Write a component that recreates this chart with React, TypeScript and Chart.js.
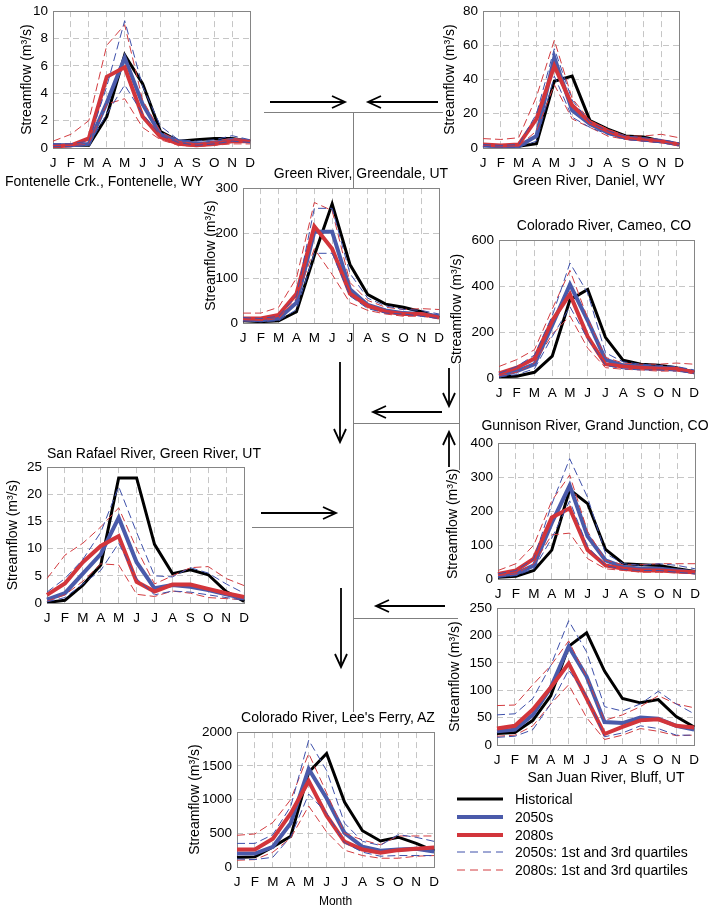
import React, { useEffect, useRef } from "react";
import { Chart, registerables } from "chart.js";
Chart.register(...registerables);

Chart.defaults.font.family = "'Liberation Sans', Arial, sans-serif";
Chart.defaults.font.size = 13.5;
Chart.defaults.color = "#000";

const MONTHS = ["J", "F", "M", "A", "M", "J", "J", "A", "S", "O", "N", "D"];
const Y_TITLE = "Streamflow (m³/s)";

// Fontenelle Crk., Fontenelle, WY
const FON_HIST = [0.2, 0.2, 0.2, 2.3, 6.8, 4.7, 1.2, 0.5, 0.6, 0.7, 0.7, 0.5];
const FON_2050 = [0.2, 0.2, 0.3, 3.3, 6.6, 3.2, 1.0, 0.5, 0.3, 0.4, 0.6, 0.5];
const FON_2080 = [0.1, 0.2, 0.7, 5.2, 5.9, 2.3, 0.8, 0.3, 0.2, 0.3, 0.5, 0.5];
const FON_2050_Q1 = [0.1, 0.1, 0.2, 2.5, 4.6, 2.5, 0.9, 0.4, 0.2, 0.3, 0.5, 0.4];
const FON_2050_Q3 = [0.3, 0.3, 0.5, 4.5, 9.3, 4.5, 1.6, 0.6, 0.5, 0.6, 0.9, 0.6];
const FON_2080_Q1 = [0.1, 0.1, 0.3, 3.2, 3.6, 1.5, 0.6, 0.2, 0.1, 0.2, 0.3, 0.3];
const FON_2080_Q3 = [0.5, 1.0, 2.0, 7.5, 9.0, 3.5, 1.2, 0.5, 0.3, 0.5, 0.7, 0.6];

// Green River, Daniel, WY
const DAN_HIST = [1.5, 1, 1, 2.5, 39, 42, 16, 11, 7, 6.5, 4, 2];
const DAN_2050 = [1.5, 1, 1, 7, 53, 22, 14, 9, 6, 5, 4, 2];
const DAN_2080 = [2, 1.5, 2, 17, 48, 25, 15, 10, 6, 5, 4, 2];
const DAN_2050_Q1 = [1, 0.5, 0.5, 4, 42, 18, 12, 8, 5, 4, 3, 1.5];
const DAN_2050_Q3 = [2, 1.5, 2, 20, 58, 28, 15, 10, 7, 6, 5, 3];
const DAN_2080_Q1 = [1, 0.5, 1, 10, 37, 17, 12, 7, 5, 4, 3, 1.5];
const DAN_2080_Q3 = [5.5, 5, 6, 30, 63, 29, 16, 11, 7, 7, 8, 6];

// Green River, Greendale, UT
const GRE_HIST = [5, 3, 5, 25, 150, 265, 130, 63, 42, 35, 25, 12];
const GRE_2050 = [8, 6, 10, 45, 203, 203, 75, 40, 28, 22, 20, 15];
const GRE_2080 = [10, 10, 18, 65, 215, 165, 65, 38, 25, 20, 20, 12];
const GRE_2050_Q1 = [5, 3, 5, 30, 155, 155, 60, 32, 22, 20, 15, 10];
const GRE_2050_Q3 = [12, 10, 15, 60, 255, 255, 110, 55, 38, 30, 28, 20];
const GRE_2080_Q1 = [5, 5, 10, 55, 165, 108, 45, 28, 20, 15, 15, 10];
const GRE_2080_Q3 = [22, 22, 35, 100, 268, 250, 90, 50, 35, 30, 32, 30];

// Colorado River, Cameo, CO
const CAM_HIST = [5, 8, 25, 95, 340, 385, 177, 77, 60, 55, 45, 25];
const CAM_2050 = [10, 30, 60, 230, 407, 250, 80, 55, 50, 45, 40, 25];
const CAM_2080 = [20, 45, 85, 250, 365, 180, 60, 50, 45, 40, 40, 25];
const CAM_2050_Q1 = [5, 15, 40, 180, 310, 170, 55, 40, 35, 35, 30, 20];
const CAM_2050_Q3 = [20, 50, 100, 270, 500, 370, 110, 70, 60, 55, 50, 35];
const CAM_2080_Q1 = [10, 25, 65, 190, 270, 130, 45, 38, 35, 30, 30, 20];
const CAM_2080_Q3 = [50, 80, 123, 300, 468, 260, 90, 65, 60, 60, 65, 60];

// Gunnison River, Grand Junction, CO
const GUN_HIST = [5, 8, 25, 85, 263, 222, 87, 45, 42, 40, 30, 22];
const GUN_2050 = [10, 15, 40, 165, 275, 126, 55, 35, 30, 30, 25, 20];
const GUN_2080 = [15, 25, 60, 181, 208, 85, 40, 30, 25, 25, 22, 20];
const GUN_2050_Q1 = [5, 10, 30, 120, 230, 95, 40, 28, 25, 25, 20, 15];
const GUN_2050_Q3 = [15, 25, 60, 220, 354, 240, 75, 45, 40, 45, 40, 30];
const GUN_2080_Q1 = [10, 15, 45, 130, 135, 60, 30, 25, 20, 20, 18, 15];
const GUN_2080_Q3 = [25, 45, 100, 230, 306, 140, 55, 42, 42, 45, 45, 45];

// San Juan River, Bluff, UT
const SJU_HIST = [21, 23, 45, 90, 180, 205, 135, 85, 77, 83, 52, 33];
const SJU_2050 = [25, 28, 55, 105, 180, 125, 42, 40, 50, 48, 35, 28];
const SJU_2080 = [30, 35, 65, 105, 149, 85, 20, 33, 45, 47, 35, 32];
const SJU_2050_Q1 = [14, 16, 28, 75, 137, 90, 15, 22, 35, 30, 18, 18];
const SJU_2050_Q3 = [55, 57, 85, 145, 227, 170, 70, 62, 75, 98, 75, 57];
const SJU_2080_Q1 = [16, 18, 35, 75, 110, 50, 10, 18, 30, 25, 17, 18];
const SJU_2080_Q3 = [72, 73, 110, 145, 190, 125, 45, 55, 70, 90, 75, 68];

// San Rafael River, Green River, UT
const SRA_HIST = [0.1, 0.5, 3.3, 7.0, 23, 23, 10.8, 5.4, 6.1, 5.2, 2.1, 0.3];
const SRA_2050 = [0.6, 1.8, 5.4, 9.0, 15.7, 7.5, 2.7, 3.3, 3.0, 2.4, 1.6, 0.8];
const SRA_2080 = [1.5, 3.6, 7.5, 10.5, 12.3, 3.9, 2.1, 3.4, 3.4, 2.6, 1.8, 1.1];
const SRA_2050_Q1 = [0.2, 1.0, 3.5, 6, 11, 4.5, 1.5, 2.2, 2.0, 1.5, 1.0, 0.5];
const SRA_2050_Q3 = [2.0, 4.5, 8, 13, 21.4, 13, 5, 4.8, 6.5, 5.5, 3.5, 1.8];
const SRA_2080_Q1 = [0.3, 1.5, 4, 7.2, 7, 1.6, 1.2, 2.2, 1.8, 1.0, 0.8, 0.6];
const SRA_2080_Q3 = [4.5, 8.8, 11, 14, 17.5, 10, 3.5, 5, 6.5, 6.7, 4.5, 3.2];

// Colorado River, Lee's Ferry, AZ
const LEE_HIST = [140, 150, 298, 456, 1404, 1683, 962, 538, 385, 442, 350, 240];
const LEE_2050 = [200, 200, 300, 650, 1452, 1019, 505, 300, 240, 260, 270, 230];
const LEE_2080 = [260, 260, 420, 793, 1274, 760, 375, 260, 210, 250, 270, 290];
const LEE_2050_Q1 = [120, 110, 144, 450, 1082, 800, 360, 220, 160, 170, 170, 170];
const LEE_2050_Q3 = [350, 350, 480, 900, 1880, 1430, 650, 380, 320, 480, 440, 380];
const LEE_2080_Q1 = [100, 110, 220, 430, 904, 520, 250, 170, 130, 130, 160, 170];
const LEE_2080_Q3 = [470, 490, 660, 1000, 1683, 1100, 500, 400, 330, 460, 460, 460];

const BLUE = "#4a5aaa";
const RED = "#d2353b";
const BLUE_D = "#3e50aa";
const RED_D = "#d23c40";
const DASH = [8, 4];

type SeriesSet = {
  hist: number[]; s50: number[]; s80: number[];
  q50a: number[]; q50b: number[]; q80a: number[]; q80b: number[];
};

function buildDatasets(s: SeriesSet) {
  const base = { pointRadius: 0, fill: false, tension: 0 };
  return [
    { ...base, label: "2050s Q1", data: s.q50a, borderColor: BLUE_D, borderWidth: 1, borderDash: DASH, order: 1 },
    { ...base, label: "2050s Q3", data: s.q50b, borderColor: BLUE_D, borderWidth: 1, borderDash: DASH, order: 1 },
    { ...base, label: "2080s Q1", data: s.q80a, borderColor: RED_D, borderWidth: 1, borderDash: DASH, order: 1 },
    { ...base, label: "2080s Q3", data: s.q80b, borderColor: RED_D, borderWidth: 1, borderDash: DASH, order: 1 },
    { ...base, label: "2080s", data: s.s80, borderColor: RED, borderWidth: 4, order: 5 },
    { ...base, label: "2050s", data: s.s50, borderColor: BLUE, borderWidth: 4, order: 6 },
    { ...base, label: "Historical", data: s.hist, borderColor: "#000", borderWidth: 3, order: 7 },
  ];
}

const framePlugin = {
  id: "frame",
  beforeDraw(chart: any) {
    const { ctx, chartArea: a } = chart;
    ctx.save();
    ctx.fillStyle = "#fff";
    ctx.fillRect(a.left, a.top, a.right - a.left, a.bottom - a.top);
    ctx.restore();
  },
  beforeDatasetsDraw(chart: any) {
    const { ctx, chartArea: a } = chart;
    ctx.save();
    ctx.strokeStyle = "#858585";
    ctx.lineWidth = 1;
    ctx.setLineDash([]);
    ctx.strokeRect(Math.round(a.left) + 0.5, Math.round(a.top) + 0.5, Math.round(a.right - a.left), Math.round(a.bottom - a.top));
    ctx.restore();
  },
};

type PanelProps = {
  series: SeriesSet; max: number; step: number;
  L: number; R: number; T: number; B: number; titleX: number;
  xTitle?: string; xAxisH?: number; titleAlign?: "start" | "center" | "end";
};

function Panel({ series, max, step, L, R, T, B, titleX, xTitle, xAxisH, titleAlign }: PanelProps) {
  const ref = useRef<HTMLCanvasElement>(null);
  const padTop = 10;
  const padRight = 8;
  const xH = xAxisH ?? 25;
  const canvasLeft = titleX - 8;
  const yW = L - canvasLeft;
  const width = R - canvasLeft + padRight;
  const height = B - T + padTop + xH;
  useEffect(() => {
    const grid = { color: "#c6c6c6", lineWidth: 1, drawTicks: false };
    const border = { display: false, dash: [6, 4] };
    const chart = new Chart(ref.current as HTMLCanvasElement, {
      type: "line",
      data: { labels: MONTHS, datasets: buildDatasets(series) as any },
      options: {
        animation: false,
        responsive: false,
        maintainAspectRatio: false,
        layout: { padding: { top: padTop, right: padRight, left: 0, bottom: 0 } },
        plugins: { legend: { display: false }, tooltip: { enabled: false }, title: { display: false } },
        scales: {
          x: {
            type: "category",
            offset: false,
            grid: { ...grid, offset: false },
            border,
            ticks: { padding: 7, autoSkip: false, maxRotation: 0, color: "#000" },
            title: xTitle
              ? { display: true, text: xTitle, padding: 0, color: "#000", font: { size: 12 } }
              : { display: false },
            afterFit: (s: any) => { s.height = xH; },
          },
          y: {
            min: 0,
            max,
            grid,
            border,
            ticks: { stepSize: step, padding: 5, color: "#000", callback: (v: any) => String(v) },
            title: { display: true, text: Y_TITLE, padding: 0, color: "#000", font: { size: 14 }, align: titleAlign ?? "center" },
            afterFit: (s: any) => { s.width = yW; },
          },
        },
      } as any,
      plugins: [framePlugin],
    });
    return () => chart.destroy();
  }, []);
  return (
    <canvas
      ref={ref}
      width={width}
      height={height}
      style={{ position: "absolute", left: canvasLeft, top: T - padTop, width, height, zIndex: 1 }}
    />
  );
}

function Label({ text, cx, cy, left }: { text: string; cx?: number; cy: number; left?: number }) {
  const style: React.CSSProperties = {
    position: "absolute",
    top: cy,
    whiteSpace: "nowrap",
    fontFamily: "'Liberation Sans', Arial, sans-serif",
    fontSize: 14,
    color: "#000",
    lineHeight: "16px",
    zIndex: 2,
  };
  if (left !== undefined) {
    style.left = left;
    style.transform = "translate(0,-50%)";
  } else {
    style.left = cx;
    style.transform = "translate(-50%,-50%)";
  }
  return <div style={style}>{text}</div>;
}

function Arrow({ x1, y1, x2, y2 }: { x1: number; y1: number; x2: number; y2: number }) {
  const dx = x2 - x1, dy = y2 - y1;
  const len = Math.hypot(dx, dy);
  const ux = dx / len, uy = dy / len;
  const px = -uy, py = ux;
  const hl = 13, hw = 6;
  const a = `${x2 - ux * hl + px * hw},${y2 - uy * hl + py * hw}`;
  const b = `${x2 - ux * hl - px * hw},${y2 - uy * hl - py * hw}`;
  return (
    <g stroke="#000" strokeWidth={1.8} fill="none">
      <line x1={x1} y1={y1} x2={x2} y2={y2} />
      <polyline points={`${a} ${x2},${y2} ${b}`} />
    </g>
  );
}

const LEGEND_ITEMS = ["Historical", "2050s", "2080s", "2050s: 1st and 3rd quartiles", "2080s: 1st and 3rd quartiles"];
const LEGEND_Y = [799, 817, 835, 852, 870];

export default function App() {
  const gray = "#7f7f7f";
  const legendStyles = [
    { stroke: "#000", w: 3, dash: undefined },
    { stroke: BLUE, w: 4, dash: undefined },
    { stroke: RED, w: 4, dash: undefined },
    { stroke: BLUE_D, w: 1, dash: "8 5" },
    { stroke: RED_D, w: 1, dash: "8 5" },
  ];
  return (
    <div style={{ position: "absolute", left: 0, top: 0, width: 715, height: 910, background: "#fff", overflow: "hidden" }}>
      <svg width={715} height={910} style={{ position: "absolute", left: 0, top: 0, zIndex: 0 }}>
        <g stroke={gray} strokeWidth={1} fill="none">
          <line x1={264} y1={112.5} x2={443} y2={112.5} />
          <line x1={353.5} y1={112} x2={353.5} y2={712} />
          <line x1={354} y1={423.5} x2={459} y2={423.5} />
          <line x1={459.5} y1={364} x2={459.5} y2={470} />
          <line x1={252} y1={527.5} x2={354} y2={527.5} />
          <line x1={354} y1={618.5} x2={458} y2={618.5} />
        </g>
        <Arrow x1={270} y1={102} x2={345} y2={102} />
        <Arrow x1={438} y1={102} x2={368} y2={102} />
        <Arrow x1={340} y1={362} x2={340} y2={442} />
        <Arrow x1={449} y1={368} x2={449} y2={406} />
        <Arrow x1={442} y1={412} x2={373} y2={412} />
        <Arrow x1={449} y1={467} x2={449} y2={432} />
        <Arrow x1={261} y1={513} x2={336} y2={513} />
        <Arrow x1={445} y1={606} x2={376} y2={606} />
        <Arrow x1={341} y1={588} x2={341} y2={667} />
        {legendStyles.map((s, i) => (
          <line key={i} x1={457} y1={LEGEND_Y[i]} x2={503} y2={LEGEND_Y[i]} stroke={s.stroke} strokeWidth={s.w} strokeDasharray={s.dash} />
        ))}
      </svg>

      <Panel series={{ hist: FON_HIST, s50: FON_2050, s80: FON_2080, q50a: FON_2050_Q1, q50b: FON_2050_Q3, q80a: FON_2080_Q1, q80b: FON_2080_Q3 }}
        max={10} step={2} L={53} R={254} T={8} B={148} titleX={27} />
      <Panel series={{ hist: DAN_HIST, s50: DAN_2050, s80: DAN_2080, q50a: DAN_2050_Q1, q50b: DAN_2050_Q3, q80a: DAN_2080_Q1, q80b: DAN_2080_Q3 }}
        max={80} step={20} L={483} R={683} T={8} B={148} titleX={450} />
      <Panel series={{ hist: GRE_HIST, s50: GRE_2050, s80: GRE_2080, q50a: GRE_2050_Q1, q50b: GRE_2050_Q3, q80a: GRE_2080_Q1, q80b: GRE_2080_Q3 }}
        max={300} step={100} L={243} R={443} T={185} B={323} titleX={211} />
      <Panel series={{ hist: CAM_HIST, s50: CAM_2050, s80: CAM_2080, q50a: CAM_2050_Q1, q50b: CAM_2050_Q3, q80a: CAM_2080_Q1, q80b: CAM_2080_Q3 }}
        max={600} step={200} L={499} R={698} T={237} B={378} titleX={457} />
      <Panel series={{ hist: GUN_HIST, s50: GUN_2050, s80: GUN_2080, q50a: GUN_2050_Q1, q50b: GUN_2050_Q3, q80a: GUN_2080_Q1, q80b: GUN_2080_Q3 }}
        max={400} step={100} L={498} R={699} T={440} B={579} titleX={453} titleAlign="start" />
      <Panel series={{ hist: SJU_HIST, s50: SJU_2050, s80: SJU_2080, q50a: SJU_2050_Q1, q50b: SJU_2050_Q3, q80a: SJU_2080_Q1, q80b: SJU_2080_Q3 }}
        max={250} step={50} L={497} R={698} T={605} B={745} titleX={455} />
      <Panel series={{ hist: SRA_HIST, s50: SRA_2050, s80: SRA_2080, q50a: SRA_2050_Q1, q50b: SRA_2050_Q3, q80a: SRA_2080_Q1, q80b: SRA_2080_Q3 }}
        max={25} step={5} L={47} R={248} T={464} B={603} titleX={13} />
      <Panel series={{ hist: LEE_HIST, s50: LEE_2050, s80: LEE_2080, q50a: LEE_2050_Q1, q50b: LEE_2050_Q3, q80a: LEE_2080_Q1, q80b: LEE_2080_Q3 }}
        max={2000} step={500} L={237} R={438} T={729} B={867} titleX={195} xTitle="Month" xAxisH={42} />

      <Label text="Fontenelle Crk., Fontenelle, WY" left={5} cy={181} />
      <Label text="Green River, Daniel, WY" cx={589} cy={180} />
      <Label text="Green River, Greendale, UT" cx={361} cy={173} />
      <Label text="Colorado River, Cameo, CO" cx={604} cy={225} />
      <Label text="Gunnison River, Grand Junction, CO" cx={595} cy={425} />
      <Label text="San Juan River, Bluff, UT" cx={606} cy={777} />
      <Label text="San Rafael River, Green River, UT" cx={154} cy={453} />
      <Label text="Colorado River, Lee's Ferry, AZ" cx={338} cy={717} />

      {LEGEND_ITEMS.map((t, i) => (
        <Label key={t} text={t} left={515} cy={LEGEND_Y[i]} />
      ))}
    </div>
  );
}
